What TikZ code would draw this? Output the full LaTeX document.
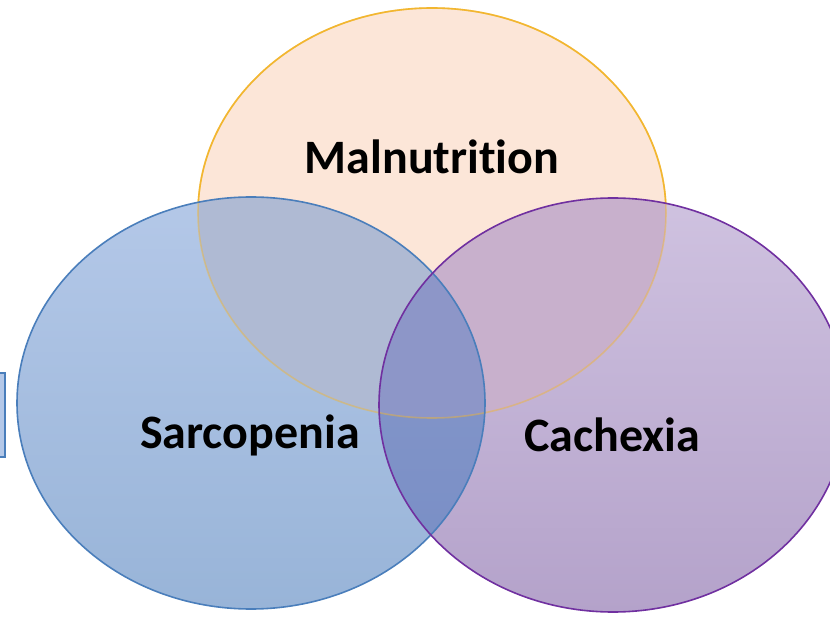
\documentclass[tikz,border=0pt]{standalone}
\usepackage{fontspec}
\setmainfont[Ligatures={NoCommon}]{Carlito}
\definecolor{orfill}{HTML}{FCE6D8}
\definecolor{orline}{HTML}{F2B630}
\definecolor{blfilltop}{HTML}{B4C8E8}
\definecolor{blfillbot}{HTML}{98B4D8}
\definecolor{blline}{HTML}{4A7EBB}
\definecolor{pufilltop}{HTML}{CFC2E0}
\definecolor{pufillbot}{HTML}{B4A2CA}
\definecolor{puline}{HTML}{7030A0}
\definecolor{obfill}{HTML}{AFBAD3}
\definecolor{opfill}{HTML}{C8B0CC}
\definecolor{bpfilltop}{HTML}{8A9ACB}
\definecolor{bpfillbot}{HTML}{778DC5}
\definecolor{tripfill}{HTML}{8D96C8}
\tikzset{
  x=1pt,y=-1pt,
  lbl/.style={font=\bfseries\fontsize{48}{52}\selectfont, text=black},
  edge/.style={line width=1.6pt},
}
\def\ellO{(432,213) ellipse [x radius=234, y radius=205]}
\def\ellB{(251,403) ellipse [x radius=234, y radius=206]}
\def\ellP{(613,405) ellipse [x radius=234, y radius=207]}
\begin{document}
\begin{tikzpicture}
\useasboundingbox (0,0) rectangle (830,617);
\coordinate (mal) at (432,213);
\coordinate (sar) at (251,403);
\coordinate (cac) at (613,405);
\begin{scope}
\clip (0,0) rectangle (830,617);
% left box fragment
\node[draw=blline, line width=1.5pt, fill=blfilltop, minimum width=30pt, minimum height=84pt, inner sep=0pt] (box) at (-10,415) {};
% base fills
\fill[orfill] \ellO;
\shade[top color=blfilltop, bottom color=blfillbot] \ellB;
\shade[top color=pufilltop, bottom color=pufillbot] \ellP;
% overlaps
\begin{scope}
  \clip \ellO;
  \fill[obfill] \ellB;
  \fill[opfill] \ellP;
\end{scope}
\begin{scope}
  \clip \ellB;
  \shade[top color=bpfilltop, bottom color=bpfillbot] \ellP;
  \begin{scope}
    \clip \ellO;
    \fill[tripfill] \ellP;
  \end{scope}
\end{scope}
% outlines
\draw[edge, orline, opacity=0.45] \ellO;
\begin{scope}[even odd rule]
  \clip (-10,-10) rectangle (840,627) \ellB;
  \begin{scope}[even odd rule]
    \clip (-10,-10) rectangle (840,627) \ellP;
    \draw[edge, orline] \ellO;
  \end{scope}
\end{scope}
\draw[edge, blline] \ellB;
\draw[edge, puline] \ellP;
% labels
\node[lbl] (tmal) at (432,157) {Malnutrition};
\node[lbl] (tsar) at (250,435) {Sarcopenia};
\node[lbl] (tcac) at (612,435) {Cachexia};
\end{scope}
\end{tikzpicture}
\end{document}
